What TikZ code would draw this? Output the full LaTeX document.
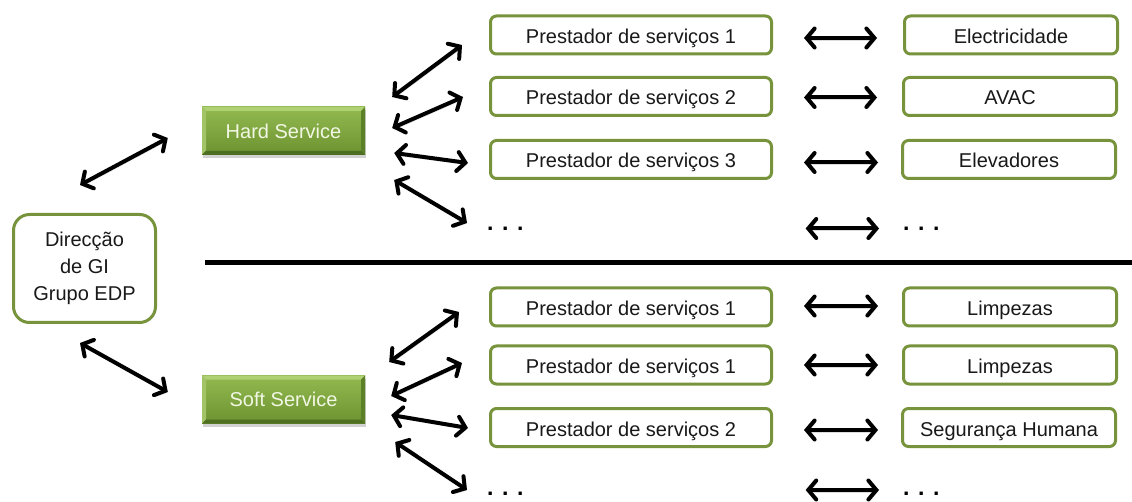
\documentclass[tikz,border=0pt]{standalone}
\usepackage{fontspec}
\setmainfont{Liberation Sans}
\usetikzlibrary{arrows.meta,calc,shadows}

\definecolor{edpgreen}{RGB}{119,147,60}
\definecolor{facetop}{RGB}{146,186,80}
\definecolor{facebot}{RGB}{108,146,48}
\definecolor{bevellight}{RGB}{176,208,116}
\definecolor{beveldark}{RGB}{78,110,34}
\definecolor{bevelmid}{RGB}{92,128,40}
\definecolor{labelpale}{RGB}{242,247,228}

\tikzset{
  txt/.style={font=\fontsize{20}{27}\selectfont, text=black!90},
  wbox/.style={txt, draw=edpgreen, line width=3pt, fill=white,
    rounded corners=6pt, minimum width=281pt, minimum height=38pt, inner sep=0pt,
    text height=21pt, text depth=4pt},
  rbox/.style={wbox, minimum width=213pt},
  headbox/.style={txt, draw=edpgreen, line width=3pt, fill=white,
    rounded corners=16pt, minimum width=142pt, minimum height=108pt,
    align=center, inner sep=0pt},
  gbox/.style={font=\fontsize{20}{24}\selectfont, text=labelpale,
    minimum width=163pt, minimum height=48pt, inner sep=0pt,
    top color=facetop, bottom color=facebot,
    drop shadow={shadow xshift=1pt, shadow yshift=-3pt, opacity=0.35},
    path picture={
      \coordinate (bNW) at (path picture bounding box.north west);
      \coordinate (bNE) at (path picture bounding box.north east);
      \coordinate (bSW) at (path picture bounding box.south west);
      \coordinate (bSE) at (path picture bounding box.south east);
      \fill[bevellight] (bNW) -- (bNE) -- ([xshift=-4pt,yshift=-4pt]bNE)
        -- ([xshift=4pt,yshift=-4pt]bNW) -- cycle;
      \fill[bevellight!80!facebot] (bNW) -- (bSW) -- ([xshift=4pt,yshift=4pt]bSW)
        -- ([xshift=4pt,yshift=-4pt]bNW) -- cycle;
      \fill[bevelmid] (bNE) -- (bSE) -- ([xshift=-4pt,yshift=4pt]bSE)
        -- ([xshift=-4pt,yshift=-4pt]bNE) -- cycle;
      \fill[beveldark] (bSW) -- (bSE) -- ([xshift=-4pt,yshift=4pt]bSE)
        -- ([xshift=4pt,yshift=4pt]bSW) -- cycle;
    }},
  dotsnode/.style={font=\fontsize{23}{23}\selectfont\bfseries, text=black,
    inner sep=0pt, anchor=west},
  dar/.style={line width=4pt, black, line cap=round,
    {Straight Barb[length=8pt,width=19pt,line cap=round]}-{Straight Barb[length=8pt,width=19pt,line cap=round]},
    preaction={draw=black!45, opacity=0.3,
      transform canvas={xshift=1.2pt,yshift=-2pt}}},
}

\begin{document}
\begin{tikzpicture}[x=1pt,y=-1pt]
  \useasboundingbox (0,0) rectangle (1132,502);
  \clip (0,0) rectangle (1132,502);
  \fill[white] (0,0) rectangle (1132,502);

  % management box
  \node[headbox] (dir) at (84.5,268.5) {Direcção\\de GI\\Grupo EDP};

  % service groups
  \node[gbox] (hard) at (283.5,131) {Hard Service};
  \node[gbox] (soft) at (283.5,399.5) {Soft Service};

  % hard service providers and areas
  \node[wbox] (p1) at (631,35)    {Prestador de serviços 1};
  \node[wbox] (p2) at (631,96.5)  {Prestador de serviços 2};
  \node[wbox] (p3) at (631,159.5) {Prestador de serviços 3};
  \node[dotsnode] (pd) at (487,228.5) {. . .};

  \node[rbox] (r1) at (1011,35)    {Electricidade};
  \node[rbox] (r2) at (1010,96.5)  {AVAC};
  \node[rbox] (r3) at (1009,159.5) {Elevadores};
  \node[dotsnode] (rd) at (903,228.5) {. . .};

  % separator
  \draw[line width=4.5pt] (205,262.5) -- (1132,262.5);

  % soft service providers and areas
  \node[wbox] (q1) at (631,307)   {Prestador de serviços 1};
  \node[wbox] (q2) at (631,365)   {Prestador de serviços 1};
  \node[wbox] (q3) at (631,427.5) {Prestador de serviços 2};
  \node[dotsnode] (qd) at (487,494) {. . .};

  \node[rbox] (s1) at (1010,307)   {Limpezas};
  \node[rbox] (s2) at (1010,365)   {Limpezas};
  \node[rbox] (s3) at (1009,427.5) {Segurança Humana};
  \node[dotsnode] (sd) at (903,494) {. . .};

  % management to groups
  \draw[dar] ($(dir.north)+(-4.5,-28)$) -- ($(hard.west)+(-34,7)$);
  \draw[dar] ($(dir.south)+(-4.5,19)$) -- ($(soft.west)+(-34,-7.5)$);

  % hard service to providers
  \draw[dar] ($(hard.east)+(27,-34)$) -- ($(p1.west)+(-27,10)$);
  \draw[dar] ($(hard.east)+(27,-3)$)  -- ($(p2.west)+(-26,0.5)$);
  \draw[dar] ($(hard.east)+(29,22)$)  -- ($(p3.west)+(-21,3.5)$);
  \draw[dar] ($(hard.east)+(29,49)$)  -- ($(pd.west)+(-20,-5.5)$);

  % soft service to providers
  \draw[dar] ($(soft.east)+(24,-37.5)$) -- ($(q1.west)+(-30,5)$);
  \draw[dar] ($(soft.east)+(26,-3.5)$)  -- ($(q2.west)+(-27,-2)$);
  \draw[dar] ($(soft.east)+(26,15.5)$)  -- ($(q3.west)+(-21,0.5)$);
  \draw[dar] ($(soft.east)+(30,42.5)$)  -- ($(qd.west)+(-20,-4)$);

  % providers to areas
  \draw[dar] ($(p1.east)+(31,3)$)   -- ($(r1.west)+(-26,3)$);
  \draw[dar] ($(p2.east)+(31,1)$)   -- ($(r2.west)+(-25,1)$);
  \draw[dar] ($(p3.east)+(31,3)$)   -- ($(r3.west)+(-23,3)$);
  \draw[dar] ($(pd.east)+(282,0)$)  -- ($(rd.west)+(-24,0)$);
  \draw[dar] ($(q1.east)+(31,-1)$)  -- ($(s1.west)+(-24,-1)$);
  \draw[dar] ($(q2.east)+(31,0)$)   -- ($(s2.west)+(-24,0)$);
  \draw[dar] ($(q3.east)+(31,2.5)$) -- ($(s3.west)+(-23,2.5)$);
  \draw[dar] ($(qd.east)+(282,-4)$) -- ($(sd.west)+(-24,-4)$);
\end{tikzpicture}
\end{document}
